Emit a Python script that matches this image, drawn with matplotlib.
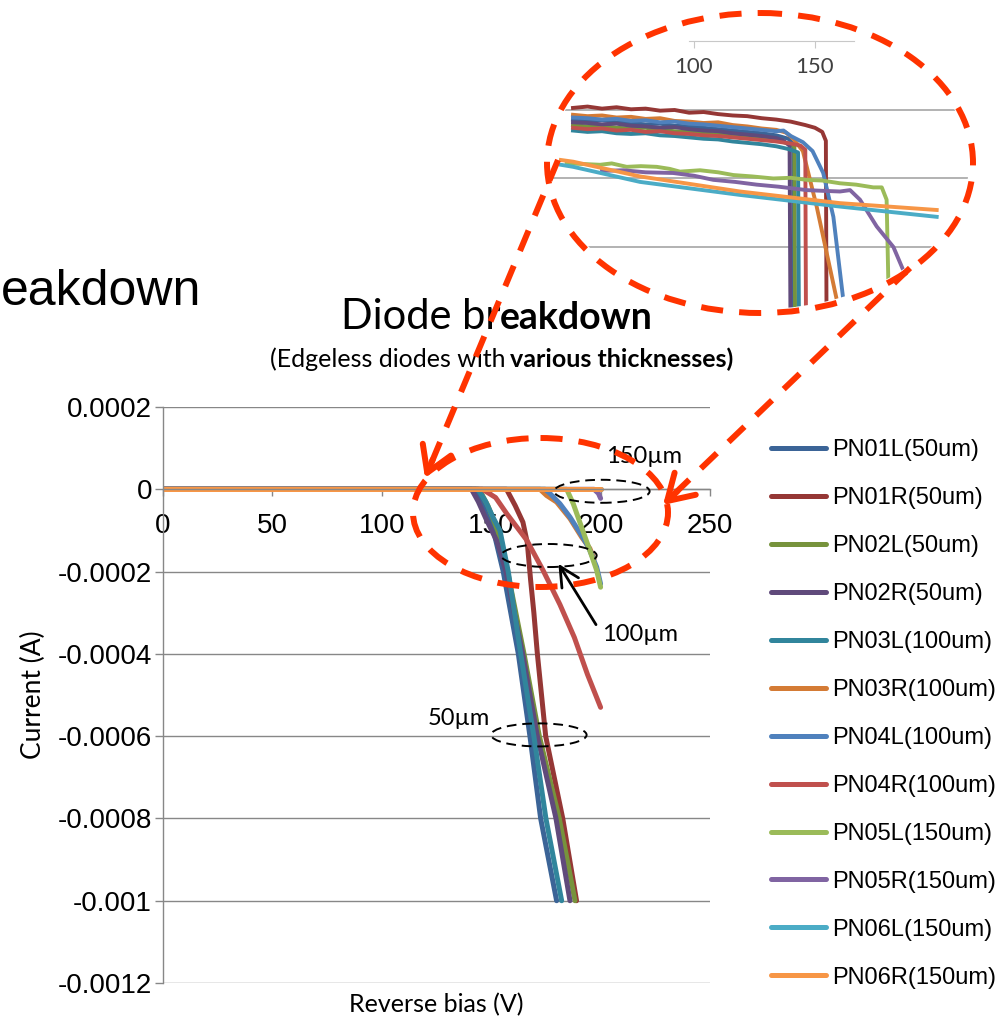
import matplotlib
matplotlib.use("Agg")
import matplotlib.pyplot as plt
from matplotlib.patches import Ellipse

# ---- main chart: reverse bias (V) vs current (A) ----
names = ["PN01L(50um)", "PN01R(50um)", "PN02L(50um)", "PN02R(50um)",
         "PN03L(100um)", "PN03R(100um)", "PN04L(100um)", "PN04R(100um)",
         "PN05L(150um)", "PN05R(150um)", "PN06L(150um)", "PN06R(150um)"]
colors = ["#3b6497", "#953735", "#77933c", "#604a7b", "#31859c", "#d47b35",
          "#4f81bd", "#c0504d", "#9bbb59", "#8064a2", "#4bacc6", "#f79646"]

pn01l_v = [0, 143, 147, 151, 155.5, 162.4, 167.7, 172.6, 179.9]
pn01l_i = [0, 0, -0.00004, -0.0001, -0.0002, -0.0004, -0.0006, -0.0008, -0.001]
pn01r_v = [0, 157, 161, 164.5, 166.5, 168, 169.5, 171.1, 174.9, 182.7, 189]
pn01r_i = [0, 0, -0.00004, -0.00008, -0.00013, -0.00022, -0.0003, -0.0004, -0.0006, -0.0008, -0.001]
pn02l_v = [0, 144.5, 148.5, 153, 157.5, 165, 172, 181.1, 188.3]
pn02l_i = [0, 0, -0.00004, -0.0001, -0.0002, -0.0004, -0.0006, -0.0008, -0.001]
pn02r_v = [0, 141, 144.1, 147.9, 152.5, 156.8, 160.1, 164.4, 171.1, 179.6, 186]
pn02r_i = [0, 0, -0.00003, -0.000075, -0.000125, -0.0002, -0.00029, -0.0004, -0.0006, -0.0008, -0.001]
pn03l_v = [0, 144, 147.5, 151, 154, 157.8, 163.5, 169.5, 175, 182.2]
pn03l_i = [0, 0, -0.00003, -0.00007, -0.0001, -0.0002, -0.0004, -0.0006, -0.0008, -0.001]
pn03r_v = [0, 172.3, 175.3, 179.9, 186, 191.3, 195.1, 197]
pn03r_i = [0, 0, -0.000015, -0.000031, -0.000071, -0.000116, -0.000144, -0.00017]
pn04l_v = [0, 174.6, 176.9, 181.4, 186, 191.3, 194.4, 198.2, 200]
pn04l_i = [0, 0, -0.0000105, -0.000035, -0.0000675, -0.000112, -0.00014, -0.000189, -0.00023]
pn04r_v = [0, 146, 152, 157.2, 166.3, 173.7, 181.4, 188, 194, 200]
pn04r_i = [0, 0, -0.00002, -0.00006, -0.000124, -0.000197, -0.00028, -0.00036, -0.00045, -0.00053]
pn05l_v = [0, 184.5, 187.5, 191.3, 195.1, 198.2, 200]
pn05l_i = [0, 0, -0.000035, -0.000092, -0.000149, -0.000197, -0.000238]
pn05r_v = [0, 197, 199, 200]
pn05r_i = [0, 0, -0.00001, -0.000022]
pn06l_v = [0, 200]
pn06l_i = [0, 0]
pn06r_v = [0, 200]
pn06r_i = [0, 0]

volts = [pn01l_v, pn01r_v, pn02l_v, pn02r_v, pn03l_v, pn03r_v,
         pn04l_v, pn04r_v, pn05l_v, pn05r_v, pn06l_v, pn06r_v]
currents = [pn01l_i, pn01r_i, pn02l_i, pn02r_i, pn03l_i, pn03r_i,
            pn04l_i, pn04r_i, pn05l_i, pn05r_i, pn06l_i, pn06r_i]

y_ticks = [0.0002, 0, -0.0002, -0.0004, -0.0006, -0.0008, -0.001, -0.0012]
y_labels = ["0.0002", "0", "-0.0002", "-0.0004", "-0.0006", "-0.0008", "-0.001", "-0.0012"]
x_ticks = [0, 50, 100, 150, 200, 250]

# ---- magnified inset (leakage before breakdown, arbitrary current units) ----
base_v = [50, 56, 62, 68, 74, 80, 86, 92, 98, 104, 110, 116, 122, 128, 134]
in01l_v = base_v + [139, 141, 141.3]
in01l_y = [-1.14, -1.16, -1.15, -1.18, -1.19, -1.21, -1.20, -1.23, -1.24, -1.26, -1.28, -1.30, -1.32, -1.34, -1.37, -1.42, -1.50, -4.3]
in01r_v = base_v + [140, 146, 150, 153, 154.5, 154.8]
in01r_y = [-0.97, -0.95, -0.98, -0.96, -0.99, -0.98, -1.01, -1.00, -1.04, -1.03, -1.06, -1.08, -1.09, -1.12, -1.14, -1.17, -1.22, -1.26, -1.32, -1.45, -4.3]
in02l_v = base_v + [138, 141.5, 141.8]
in02l_y = [-1.22, -1.24, -1.23, -1.26, -1.27, -1.26, -1.29, -1.31, -1.32, -1.34, -1.36, -1.37, -1.40, -1.42, -1.44, -1.48, -1.53, -4.3]
in02r_v = base_v + [137, 139.5, 139.9]
in02r_y = [-1.18, -1.19, -1.21, -1.20, -1.23, -1.24, -1.26, -1.25, -1.28, -1.30, -1.31, -1.34, -1.36, -1.38, -1.41, -1.45, -1.52, -4.3]
in03l_v = base_v + [139, 143, 143.4]
in03l_y = [-1.30, -1.32, -1.31, -1.34, -1.35, -1.34, -1.37, -1.38, -1.40, -1.42, -1.43, -1.46, -1.48, -1.50, -1.53, -1.57, -1.62, -4.3]
in03r_v = base_v + [138, 141, 145, 150.7, 159, 162]
in03r_y = [-1.07, -1.09, -1.08, -1.11, -1.10, -1.13, -1.12, -1.16, -1.17, -1.19, -1.18, -1.22, -1.24, -1.27, -1.29, -1.33, -1.42, -1.60, -2.41, -3.77, -4.3]
in04l_v = base_v + [137, 140, 145, 149, 153.4, 157.6, 161.7, 163]
in04l_y = [-1.11, -1.12, -1.14, -1.13, -1.16, -1.15, -1.18, -1.17, -1.20, -1.21, -1.23, -1.25, -1.27, -1.29, -1.31, -1.30, -1.38, -1.47, -1.60, -1.92, -2.56, -3.77, -4.3]
in04r_v = base_v + [140, 144, 146, 146.3]
in04r_y = [-1.26, -1.28, -1.27, -1.30, -1.29, -1.32, -1.31, -1.34, -1.35, -1.37, -1.38, -1.40, -1.42, -1.44, -1.46, -1.49, -1.52, -1.58, -4.3]
in05l_v = [47.4, 55, 61.2, 66, 72.2, 78, 84.6, 90, 94.2, 102.5, 110, 116.3, 124, 132.8, 140, 146.6, 153, 160.3, 167, 174.1, 177.6, 179.6, 180.3, 180.5]
in05l_y = [-1.78, -1.79, -1.80, -1.78, -1.83, -1.82, -1.83, -1.86, -1.90, -1.88, -1.91, -1.95, -1.97, -2.00, -1.99, -2.02, -2.03, -2.07, -2.09, -2.13, -2.13, -2.31, -3.48, -4.3]
in05r_v = [62, 70.8, 80, 91.4, 100, 108, 117, 125.9, 135, 146.6, 153, 160.3, 164.5, 168.6, 175.5, 182.4, 186.5, 190]
in05r_y = [-1.89, -1.88, -1.91, -1.92, -1.96, -2.02, -2.05, -2.09, -2.12, -2.17, -2.18, -2.19, -2.17, -2.31, -2.70, -3.00, -3.34, -3.70]
in06l_v = [45, 50.1, 77.7, 119, 160.3, 200.3]
in06l_y = [-1.80, -1.83, -2.05, -2.24, -2.41, -2.56]
in06r_v = [45, 50.1, 77.7, 119, 160.3, 200.3]
in06r_y = [-1.73, -1.755, -1.97, -2.19, -2.36, -2.46]

inset_v = [in01l_v, in01r_v, in02l_v, in02r_v, in03l_v, in03r_v,
           in04l_v, in04r_v, in05l_v, in05r_v, in06l_v, in06r_v]
inset_y = [in01l_y, in01r_y, in02l_y, in02r_y, in03l_y, in03r_y,
           in04l_y, in04r_y, in05l_y, in05r_y, in06l_y, in06r_y]

W, H = 1005, 1017
RED = "#ff3300"
GRID = "#878787"
TICKFONT = "Liberation Sans"
CAL = "Lato"

fig = plt.figure(figsize=(W / 100, H / 100), dpi=100)

# main axes
ax = fig.add_axes([163 / W, 1 - 983 / H, 547 / W, 576 / H])
for v, c, col, lab in zip(volts, currents, colors, names):
    ax.plot(v, c, color=col, lw=3.6, label=lab, solid_capstyle="round", solid_joinstyle="round")

ax.set_xlim(0, 250)
ax.set_ylim(-0.0012, 0.0002)
ax.set_yticks(y_ticks)
ax.set_yticklabels(y_labels)
ax.set_xticks(x_ticks)
ax.set_xticklabels([str(t) for t in x_ticks])
ax.grid(axis="y", color=GRID, lw=1.0)
ax.set_axisbelow(True)
for s in ["top", "right"]:
    ax.spines[s].set_visible(False)
ax.spines["bottom"].set_position(("data", 0))
ax.spines["bottom"].set_color(GRID)
ax.spines["left"].set_color(GRID)
ax.spines["bottom"].set_linewidth(1.0)
ax.spines["left"].set_linewidth(1.0)
ax.tick_params(axis="y", length=6, width=1, color=GRID, pad=2, labelsize=20)
ax.tick_params(axis="x", length=5, width=1, color=GRID, pad=12, labelsize=20)
for t in ax.get_xticklabels() + ax.get_yticklabels():
    t.set_family(TICKFONT)

ax.set_xlabel("Reverse bias (V)", family=CAL, fontsize=18)
ax.xaxis.set_label_coords(0.499, -0.0174)
ax.set_ylabel("Current (A)", family=CAL, fontsize=19)
ax.yaxis.set_label_coords(-0.214, 0.5)

# thickness groups
for cx, cy in [(200.6, -0.0000049), (176.4, -0.000161), (171.8, -0.000597)]:
    ax.add_patch(Ellipse((cx, cy), 43.6, 0.000056, fill=False, ec="black",
                         lw=1.4, ls=(0, (5, 3)), zorder=5))
ax.text(202.5, 0.0000804, "150\u00b5m", family=CAL, fontsize=17, ha="left", va="center")
ax.text(200.6, -0.000353, "100\u00b5m", family=CAL, fontsize=17, ha="left", va="center")
ax.text(149.4, -0.000558, "50\u00b5m", family=CAL, fontsize=17, ha="right", va="center")
ax.annotate("", xy=(180.7, -0.000181), xytext=(197.9, -0.000329),
            arrowprops=dict(arrowstyle="->,head_length=0.7,head_width=0.35", lw=2,
                            color="black", mutation_scale=20, shrinkA=0, shrinkB=0))

ax.legend(loc="upper left", bbox_to_anchor=(771 / W, 1 - 439 / H), bbox_transform=fig.transFigure,
          frameon=False, prop={"family": TICKFONT, "size": 17}, handlelength=2.35,
          handletextpad=0.25, labelspacing=1.1, borderpad=0, borderaxespad=0)

# titles
fig.text(500 / W, 1 - 329 / H, "Diode br", family=CAL, fontsize=30, ha="right", va="baseline")
fig.text(500 / W, 1 - 329 / H, "eakdown", family=CAL, fontsize=27, weight="bold", ha="left", va="baseline")
fig.text(505 / W, 1 - 367 / H, "(Edgeless diodes with", family=CAL, fontsize=18, ha="right", va="baseline")
fig.text(510 / W, 1 - 367 / H, "various thicknesses)", family=CAL, fontsize=18, weight="bold", ha="left", va="baseline")
fig.text(1 / W, 1 - 305 / H, "eakdown", family=TICKFONT, fontsize=36, ha="left", va="baseline")

# overlay in pixel coordinates
ov = fig.add_axes([0, 0, 1, 1], zorder=10)
ov.set_xlim(0, W)
ov.set_ylim(H, 0)
ov.axis("off")
ov.patch.set_alpha(0)
dash = (0, (3.7, 2.7))
ov.add_patch(Ellipse((760, 163), 426, 300, fill=False, ec=RED, lw=4.3, ls=dash))
ov.add_patch(Ellipse((540.5, 512.5), 255, 149, fill=False, ec=RED, lw=4.3, ls=dash))
for (x0, y0), (x1, y1) in [((558, 160), (428, 471)), ((910, 268), (668, 500))]:
    ov.plot([x0, x1], [y0, y1], color=RED, lw=4.3, ls=dash)
for tip, tail in [((425, 478), (432.7, 459.6)), ((663, 505), (677.4, 491.2))]:
    ov.annotate("", xy=tip, xytext=tail,
                arrowprops=dict(arrowstyle="->,head_length=0.9,head_width=0.55", color=RED,
                                lw=4.3, mutation_scale=20, shrinkA=0, shrinkB=0))

clip = Ellipse((760, 163), 418, 292, transform=ov.transData)

# inset
ax_in = fig.add_axes([547 / W, 1 - 313 / H, 426 / W, 300 / H], zorder=5)
ax_in.patch.set_alpha(0)
ax_in.set_xlim(39.26, 215.3)
ax_in.set_ylim(-3.964, 0.416)
for s in ["top", "right", "left"]:
    ax_in.spines[s].set_visible(False)
ax_in.spines["bottom"].set_position(("data", 0))
ax_in.spines["bottom"].set_bounds(98, 166)
ax_in.spines["bottom"].set_color("#c8c8c8")
ax_in.set_yticks([])
ax_in.set_xticks([100, 150])
ax_in.tick_params(axis="x", direction="out", length=5, color="#c8c8c8",
                  labelsize=16, labelcolor="#404040", pad=6)
for t in ax_in.get_xticklabels():
    t.set_family(CAL)
for g in [-1, -2, -3]:
    gl = ax_in.axhline(g, color="#a6a6a6", lw=1.2)
    gl.set_clip_path(clip)
for v, y, col in zip(inset_v, inset_y, colors):
    ln, = ax_in.plot(v, y, color=col, lw=2.8)
    ln.set_clip_path(clip)

fig.savefig("out.png", dpi=100)
